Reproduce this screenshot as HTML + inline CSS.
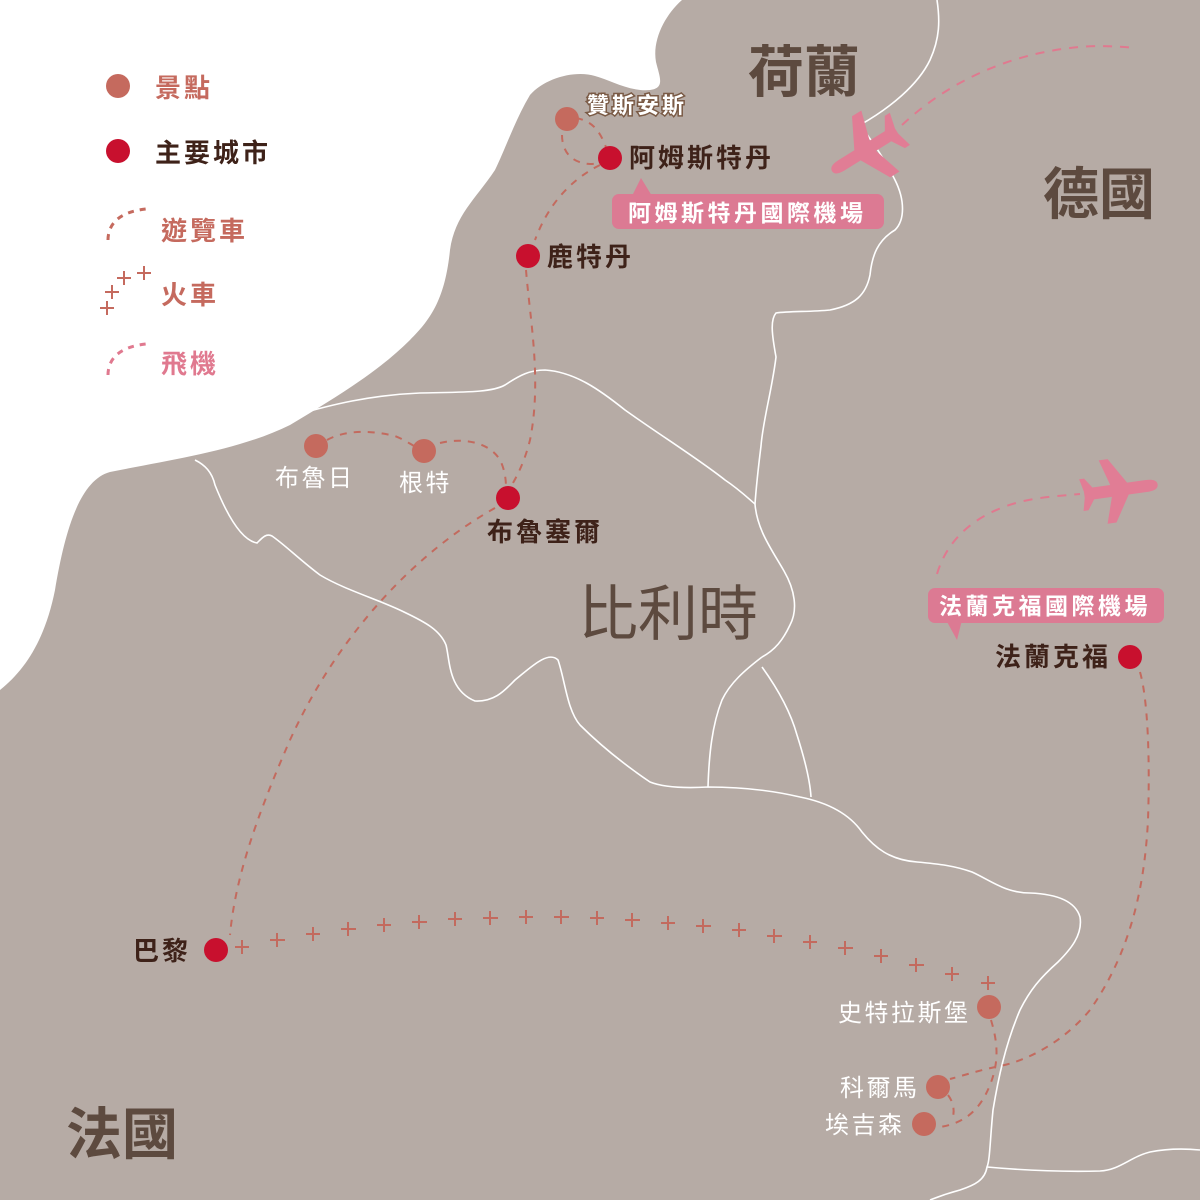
<!DOCTYPE html>
<html><head><meta charset="utf-8"><style>
html,body{margin:0;padding:0;background:#fff}
svg{display:block}
text{font-family:"Liberation Sans","Noto Sans CJK TC",sans-serif}
</style></head><body>
<svg width="1200" height="1200" viewBox="0 0 1200 1200" xmlns="http://www.w3.org/2000/svg">
<rect width="1200" height="1200" fill="#b6aba5"/>
<!-- sea -->
<path d="M0,0 L682,0 C665,15 652,40 656,62 C660,78 665,88 650,90 C630,92 610,80 595,76 C575,70 545,78 530,95 C515,120 505,150 495,170 C475,200 455,215 450,250 C445,300 430,320 410,340 C380,370 340,395 290,425 C240,450 170,460 110,472 C80,480 65,530 55,590 C45,640 25,670 0,690 Z" fill="#ffffff"/>
<!-- borders -->
<g fill="none" stroke="#ffffff" stroke-width="1.6">
<path d="M937,0 C940,20 940,38 930,60 C918,85 890,108 860,125 C875,145 885,160 895,180 C905,200 905,220 895,230 C878,240 872,255 870,275 C866,295 855,305 830,310 C810,312 790,311 776,313 C770,320 772,335 776,357 C772,390 763,420 761,446 C758,470 756,490 755,504"/>
<path d="M755,504 C757,530 772,550 784,571 C795,590 798,610 790,625 C783,640 775,650 762,657"/>
<path d="M762,657 C745,670 730,683 722,700 C712,725 709,755 708,787"/>
<path d="M762,667 C775,685 790,710 797,735 C805,760 810,780 811,797"/>
<path d="M296,415 C330,405 370,395 420,393 C460,392 491,393 505,385 C520,375 530,370 545,370 C575,372 600,390 625,410 C660,435 700,460 725,480 C740,490 750,500 755,504"/>
<path d="M195,460 C205,465 212,472 215,485 C225,510 240,540 257,543 C262,538 266,533 272,536 C285,545 300,560 320,575 C345,590 380,600 404,612 C425,622 440,630 446,645 C450,660 448,690 475,701 C495,702 505,690 515,680 C530,668 548,650 558,660 C565,680 567,710 580,725 C600,745 625,765 650,782 C665,788 690,788 708,787 C740,787 770,790 800,797 C830,803 850,815 862,832 C875,848 890,860 917,862 C940,864 955,866 972,872 C990,880 1005,893 1030,893 C1055,894 1075,900 1080,917 C1083,935 1070,950 1058,962 C1040,978 1030,990 1020,1010 C1005,1045 998,1080 993,1110 C990,1140 990,1160 987,1167 C985,1180 975,1185 960,1190 C945,1194 935,1198 930,1200"/>
<path d="M987,1167 C1020,1170 1060,1172 1100,1171 C1120,1170 1130,1157 1150,1152 C1170,1148 1190,1149 1200,1150"/>
</g>
<!-- tour bus routes -->
<g fill="none" stroke="#c36a5e" stroke-width="2" stroke-dasharray="7,7">
<path d="M576,118 C592,121 600,130 607,150"/>
<path d="M562,135 C562,150 570,163 590,164 C600,164 605,162 608,160"/>
<path d="M600,165 C570,180 548,205 535,240"/>
<path d="M526,270 C530,320 542,380 530,440 C525,460 518,475 510,488"/>
<path d="M327,440 C345,430 370,430 395,436 C405,440 410,444 416,447"/>
<path d="M440,443 C465,437 490,443 500,460 C505,470 506,480 506,488"/>
<path d="M495,508 C420,550 340,630 290,740 C255,820 235,880 230,935"/>
<path d="M991,1020 C997,1040 1000,1060 990,1085 C980,1110 965,1123 940,1127"/>
<path d="M948,1095 C954,1103 955,1112 952,1120"/>
<path d="M1140,672 C1148,700 1150,760 1148,820 C1144,900 1125,960 1090,1010 C1065,1040 1030,1060 1000,1066 C980,1070 965,1075 950,1079"/>
</g>
<!-- plane routes -->
<g fill="none" stroke="#e0798f" stroke-width="2" stroke-dasharray="9,8">
<path d="M902,125 C950,80 1010,55 1070,48 C1095,45 1115,46 1135,48"/>
<path d="M937,574 C950,530 990,505 1040,498 C1055,496 1070,495 1080,494"/>
</g>
<!-- planes -->
<g fill="#e17d95">
<path transform="translate(866,150) rotate(148)" d="M40,0 C40,-5 34,-6 28,-6 L10,-6 L-6,-36 L-17,-36 L-8,-6 L-26,-6 L-34,-19 L-40,-19 L-36,-3 L-36,3 L-40,19 L-34,19 L-26,6 L-8,6 L-17,36 L-6,36 L10,6 L28,6 C34,6 40,5 40,0 Z"/>
<path transform="translate(1118,490) rotate(-8)" d="M40,0 C40,-5 34,-6 28,-6 L10,-6 L-6,-32 L-15,-32 L-7,-6 L-25,-6 L-32,-16 L-37,-16 L-34,-3 L-34,3 L-37,16 L-32,16 L-25,6 L-7,6 L-15,32 L-6,32 L10,6 L28,6 C34,6 40,5 40,0 Z"/>
</g>
<!-- train -->
<g stroke="#c36a5e" stroke-width="2">
<path d="M235,947h14M242,940v14 M270,940h15M277,933v14 M306,934h14M313,927v14 M341,929h15M348,922v14 M377,925h14M384,918v14 M412,922h15M419,915v14 M448,919h14M455,912v14 M483,918h15M490,911v14 M519,917h14M526,910v14 M554,917h15M561,910v14 M590,918h14M597,911v14 M625,920h15M632,913v14 M661,923h14M668,916v14 M696,926h15M703,919v14 M732,930h14M739,923v14 M767,936h15M774,929v14 M803,942h14M810,935v14 M838,948h15M845,941v14 M874,956h14M881,949v14 M909,965h15M916,958v14 M945,974h14M952,967v14 M981,983h14M988,976v14"/>
</g>
<!-- dots -->
<g fill="#c56a5e">
<circle cx="567" cy="119" r="12"/><circle cx="316" cy="446" r="12"/><circle cx="424" cy="451" r="12"/>
<circle cx="989" cy="1007" r="12"/><circle cx="938" cy="1087" r="12"/><circle cx="924" cy="1124" r="12"/>
<circle cx="118" cy="86" r="12"/>
</g>
<g fill="#c8102e">
<circle cx="610" cy="158" r="12"/><circle cx="528" cy="256" r="12"/><circle cx="508" cy="498" r="12"/>
<circle cx="216" cy="950" r="12"/><circle cx="1130" cy="657" r="12"/><circle cx="118" cy="151" r="12"/>
</g>
<!-- callouts -->
<g fill="#dc7a93">
<rect x="612" y="194" width="272" height="35" rx="7"/>
<path d="M632,196 L641,178 L652,196 Z"/>
<rect x="928" y="588" width="236" height="35" rx="7"/>
<path d="M946,620 L957,640 L962,620 Z"/>
</g>
<g font-weight="bold" font-size="23" fill="#ffffff" letter-spacing="3.5">
<text x="628" y="221">阿姆斯特丹國際機場</text>
<text x="939" y="614">法蘭克福國際機場</text>
</g>
<!-- legend -->
<g font-size="26" font-weight="bold" letter-spacing="3">
<text x="155" y="97" fill="#c56a5e">景點</text>
<text x="155" y="162" fill="#3e2219">主要城市</text>
<text x="161" y="240" fill="#c56a5e">遊覽車</text>
<text x="161" y="304" fill="#c56a5e">火車</text>
<text x="161" y="373" fill="#e0798f">飛機</text>
</g>
<path d="M108,240 C108,225 118,212 146,209" fill="none" stroke="#c56a5e" stroke-width="3" stroke-dasharray="6,6"/>
<path d="M108,375 C108,360 118,347 146,344" fill="none" stroke="#e0798f" stroke-width="3" stroke-dasharray="6,6"/>
<g stroke="#c56a5e" stroke-width="2">
<path d="M100,308h14M107,301v14 M105,292h14M112,285v14 M117,278h14M124,271v14 M137,273h14M144,266v14"/>
</g>
<!-- city labels -->
<g font-size="26" font-weight="bold" fill="#3e2219" letter-spacing="3">
<text x="629" y="167">阿姆斯特丹</text>
<text x="547" y="266">鹿特丹</text>
<text x="487" y="541">布魯塞爾</text>
<text x="133" y="960">巴黎</text>
<text x="995" y="666">法蘭克福</text>
</g>
<text x="587" y="113" font-size="22" font-weight="bold" fill="#fff" stroke="#7a5a45" stroke-width="3" paint-order="stroke" letter-spacing="3">贊斯安斯</text>
<g font-size="24" fill="#ffffff" letter-spacing="2.5">
<text x="275" y="486">布魯日</text>
<text x="399" y="491">根特</text>
<text x="838" y="1021">史特拉斯堡</text>
<text x="840" y="1096">科爾馬</text>
<text x="825" y="1133">埃吉森</text>
</g>
<!-- countries -->
<g font-size="56" font-weight="bold" fill="#5d4a3f">
<text x="748" y="92">荷蘭</text>
<text x="1043" y="214">德國</text>
<text x="66" y="1154">法國</text>
</g>
<text x="578" y="635" font-size="60" fill="#5d4a3f">比利時</text>
</svg>
</body></html>
